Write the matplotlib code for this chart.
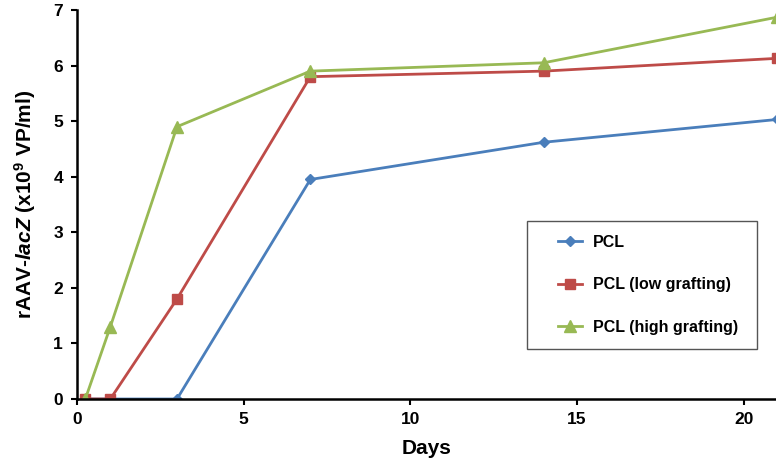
import matplotlib
matplotlib.use("Agg")
import matplotlib.pyplot as plt
from matplotlib.patches import Rectangle

days = [0.25, 1, 3, 7, 14, 21]
pcl = [0, 0, 0, 3.95, 4.62, 5.03]
pcl_low = [0, 0, 1.8, 5.8, 5.9, 6.13]
pcl_high = [0, 1.3, 4.9, 5.9, 6.05, 6.87]
labels = ["PCL", "PCL (low grafting)", "PCL (high grafting)"]
xticks = [0, 5, 10, 15, 20]
yticks = [0, 1, 2, 3, 4, 5, 6, 7]

plt.rcParams['font.family'] = ['Liberation Sans', 'DejaVu Sans']
plt.rcParams['font.weight'] = 'bold'
plt.rcParams['mathtext.fontset'] = 'custom'
plt.rcParams['mathtext.rm'] = 'Liberation Sans:bold'
plt.rcParams['mathtext.it'] = 'Liberation Sans:italic:bold'
plt.rcParams['mathtext.bf'] = 'Liberation Sans:bold'

W, H = 776, 462
fig = plt.figure(figsize=(W / 100, H / 100), dpi=100)
ax = fig.add_axes([77 / W, (H - 399) / H, (777 - 77) / W, (399 - 10) / H])

ax.plot(days, pcl, color='#4A7EBB', lw=2.0, marker='D', ms=5, label=labels[0])
ax.plot(days, pcl_low, color='#BE4B48', lw=2.0, marker='s', ms=7, label=labels[1])
ax.plot(days, pcl_high, color='#98B954', lw=2.0, marker='^', ms=8, label=labels[2])

ax.set_xlim(0, 21)
ax.set_ylim(0, 7)
ax.set_xticks(xticks)
ax.set_yticks(yticks)
ax.tick_params(axis='both', direction='out', length=4, width=1.5, labelsize=12.5, colors='black')
for lab in ax.get_xticklabels() + ax.get_yticklabels():
    lab.set_fontweight('bold')
ax.tick_params(axis='x', pad=5)
ax.tick_params(axis='y', pad=6)

for s in ['top', 'right']:
    ax.spines[s].set_visible(False)
for s in ['left', 'bottom']:
    ax.spines[s].set_linewidth(1.8)
    ax.spines[s].set_color('black')

ax.set_xlabel('Days', fontsize=15, fontweight='bold', labelpad=9)
ax.set_ylabel(r'rAAV-$\mathit{lacZ}$ (x10$^{9}$ VP/ml)', fontsize=15, fontweight='bold', labelpad=11)

# legend frame box
box = Rectangle((527 / W, (H - 349) / H), (757 - 527) / W, (349 - 221) / H,
                transform=fig.transFigure, fill=True, facecolor='white',
                edgecolor='#555555', linewidth=1.0, zorder=5, clip_on=False)
ax.add_patch(box)

leg = ax.legend(loc='upper left', bbox_to_anchor=((558 - 77) / 700, (399 - 235) / 389),
                frameon=False, fontsize=11.5, labelspacing=1.72,
                borderpad=0, handlelength=1.5, handletextpad=0.7, borderaxespad=0)
leg.set_zorder(6)
for t in leg.get_texts():
    t.set_fontweight('bold')

fig.savefig('out.png', dpi=100)
